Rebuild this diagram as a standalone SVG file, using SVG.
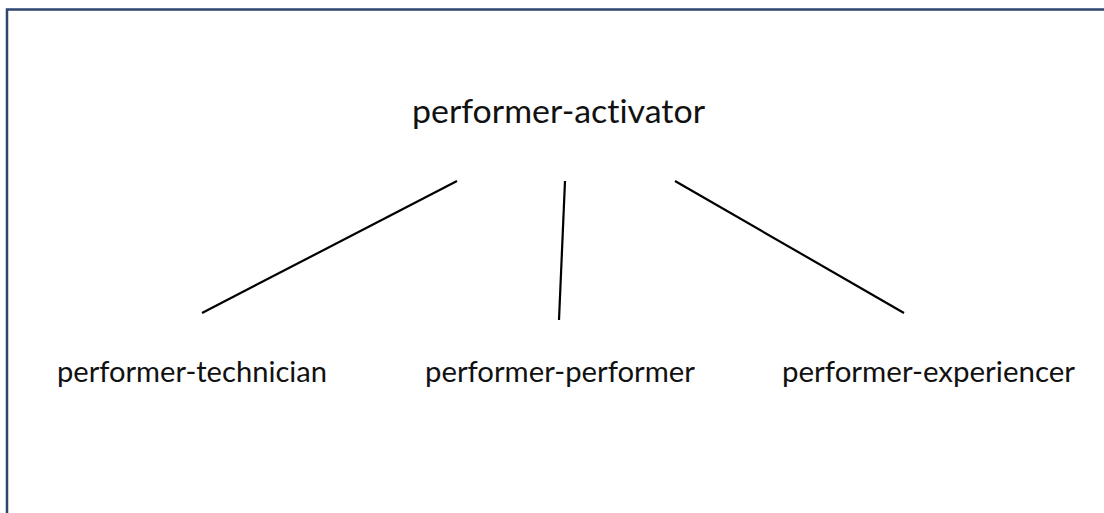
<svg xmlns="http://www.w3.org/2000/svg" width="1104" height="513" viewBox="0 0 1104 513">
<style>
.lbl{font-family:Lato,"Open Sans",sans-serif;fill:#111;font-variant-ligatures:none;font-feature-settings:"liga" 0}
.top{font-size:32px}
.sub{font-size:28px}
.conn line{stroke:#000;stroke-width:2.2;stroke-linecap:butt}
</style>
<rect x="0" y="0" width="1104" height="513" fill="#fff"/>
<path d="M7 513 V9.5 H1104" fill="none" stroke="#2c4670" stroke-width="2.5"/>
<g id="node-activator"><text class="lbl top" x="412" y="123" textLength="293" lengthAdjust="spacingAndGlyphs">performer-activator</text></g>
<g id="node-technician"><text class="lbl sub" x="57" y="382" textLength="270" lengthAdjust="spacingAndGlyphs">performer-technician</text></g>
<g id="node-performer"><text class="lbl sub" x="425" y="382" textLength="270" lengthAdjust="spacingAndGlyphs">performer-performer</text></g>
<g id="node-experiencer"><text class="lbl sub" x="782" y="382" textLength="293" lengthAdjust="spacingAndGlyphs">performer-experiencer</text></g>
<g id="connectors" class="conn">
<line x1="457" y1="181" x2="202" y2="313"/>
<line x1="565" y1="181" x2="559" y2="320"/>
<line x1="675" y1="181" x2="904" y2="313"/>
</g>
</svg>
